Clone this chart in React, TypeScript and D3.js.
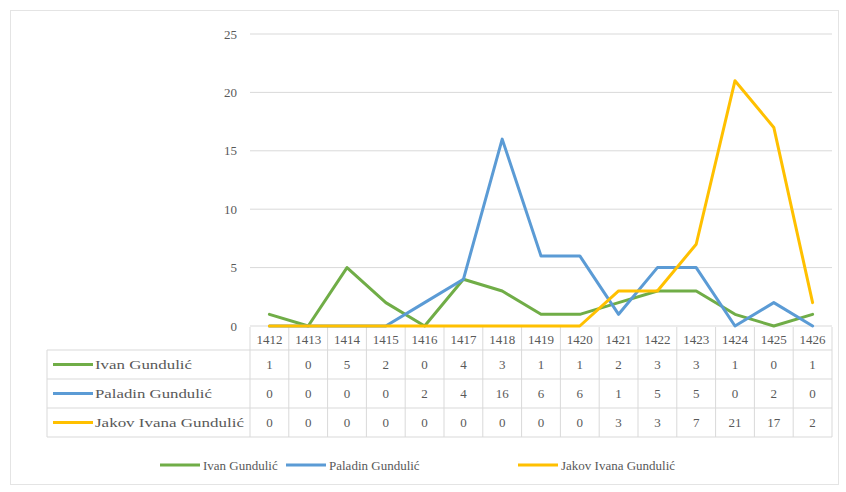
import React from "react";
import * as d3 from "d3";

const years = ["1412","1413","1414","1415","1416","1417","1418","1419","1420","1421","1422","1423","1424","1425","1426"];
const ivan = [1,0,5,2,0,4,3,1,1,2,3,3,1,0,1];
const paladin = [0,0,0,0,2,4,16,6,6,1,5,5,0,2,0];
const jakov = [0,0,0,0,0,0,0,0,0,3,3,7,21,17,2];
const seriesNames = ["Ivan Gundulić","Paladin Gundulić","Jakov Ivana Gundulić"];
const seriesColors = ["#70AD47","#5B9BD5","#FFC000"];
const yTicks = [0,5,10,15,20,25];

export default function App() {
  const W = 846, H = 492;
  const left = 250, right = 832, top = 34, bottom = 326;
  const x = d3.scaleBand<string>().domain(years).range([left, right]);
  const y = d3.scaleLinear().domain([0, 25]).range([bottom, top]);
  const line = d3.line<number>().x((_, i) => (x(years[i]) as number) + x.bandwidth() / 2).y(d => y(d));
  const series = [ivan, paladin, jakov];
  const tableLeft = 47;
  const headerTop = 327, rowTops = [350, 379, 408], rowBottom = 437;
  const font = "Liberation Serif";
  const txt = "#595959";
  const grid = "#d9d9d9";
  const fs = 13;
  const rowLabelLen = [97, 117, 149];
  const legendItems = [
    { x: 160, name: seriesNames[0], color: seriesColors[0] },
    { x: 286, name: seriesNames[1], color: seriesColors[1] },
    { x: 518, name: seriesNames[2], color: seriesColors[2] },
  ];
  const rowMid = (si: number) => (rowTops[si] + (rowTops[si + 1] ?? rowBottom)) / 2;
  const T = (p: any) => <text {...p} fontSize={p.fontSize ?? fs} fill={txt} style={{ fontFamily: font }} />;
  return (
    <svg width={W} height={H} style={{ position: "absolute", left: 0, top: 0, background: "#fff" }}>
      <rect x={10.5} y={10.5} width={828} height={474} fill="#fff" stroke="#e4e4e4" />
      {yTicks.map(t => (
        <g key={t}>
          {t > 0 && <line x1={left} x2={right} y1={y(t)} y2={y(t)} stroke={grid} />}
          {T({ x: 237, y: y(t), dy: "0.35em", textAnchor: "end", children: String(t) })}
        </g>
      ))}
      <line x1={left} x2={right} y1={bottom} y2={bottom} stroke={grid} />
      {rowTops.map((r, i) => (
        <line key={i} x1={tableLeft} x2={right} y1={r} y2={r} stroke={grid} />
      ))}
      <line x1={tableLeft} x2={right} y1={rowBottom} y2={rowBottom} stroke={grid} />
      <line x1={tableLeft} x2={tableLeft} y1={rowTops[0]} y2={rowBottom} stroke={grid} />
      {years.map((yr, i) => (
        <line key={"v" + i} x1={x(yr) as number} x2={x(yr) as number} y1={headerTop} y2={rowBottom} stroke={grid} />
      ))}
      <line x1={right} x2={right} y1={headerTop} y2={rowBottom} stroke={grid} />
      {years.map(yr => (
        <g key={"h" + yr}>
          {T({ x: (x(yr) as number) + x.bandwidth() / 2, y: (headerTop + rowTops[0]) / 2 + 1, dy: "0.35em", textAnchor: "middle", children: yr })}
        </g>
      ))}
      {series.map((s, si) => (
        <g key={"row" + si}>
          <line x1={53} x2={93} y1={rowMid(si)} y2={rowMid(si)} stroke={seriesColors[si]} strokeWidth={3} />
          {T({ x: 95, y: rowMid(si), dy: "0.35em", textLength: rowLabelLen[si], lengthAdjust: "spacingAndGlyphs", children: seriesNames[si] })}
          {s.map((v, i) => (
            <g key={i}>
              {T({ x: (x(years[i]) as number) + x.bandwidth() / 2, y: rowMid(si), dy: "0.35em", textAnchor: "middle", children: String(v) })}
            </g>
          ))}
        </g>
      ))}
      {series.map((s, si) => (
        <path key={"l" + si} d={line(s) as string} fill="none" stroke={seriesColors[si]} strokeWidth={3} strokeLinejoin="round" strokeLinecap="round" />
      ))}
      {legendItems.map(it => (
        <g key={it.name}>
          <line x1={it.x} x2={it.x + 40} y1={465} y2={465} stroke={it.color} strokeWidth={3} />
          {T({ x: it.x + 43, y: 465, dy: "0.35em", children: it.name })}
        </g>
      ))}
    </svg>
  );
}
